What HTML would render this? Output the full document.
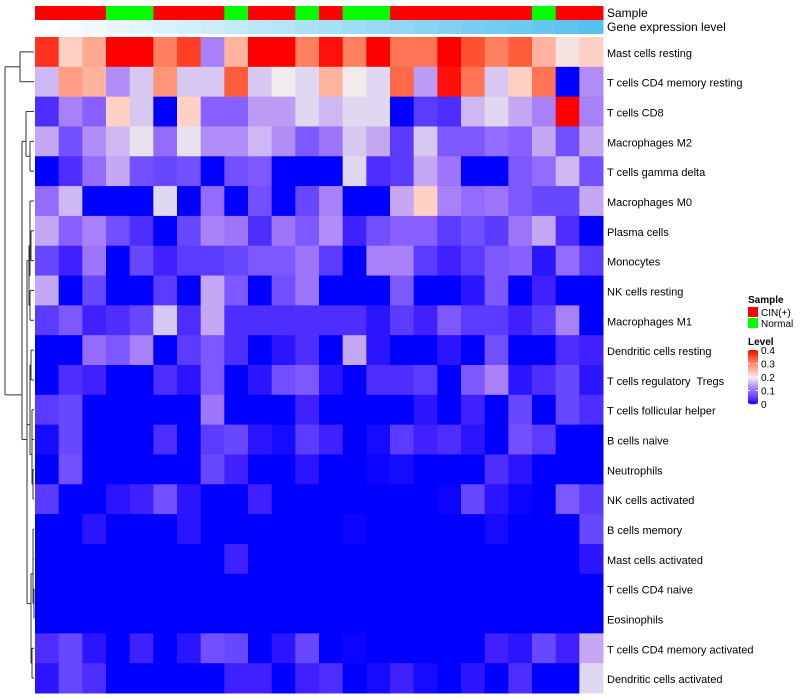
<!DOCTYPE html>
<html><head><meta charset="utf-8"><style>
html,body{margin:0;padding:0;background:#fff;}
svg{display:block;font-family:"Liberation Sans",sans-serif;}
</style></head><body>
<svg id="chart" width="800" height="700">
<g id="dendro" stroke="#333" stroke-width="1" fill="none"></g>
<g id="annot"></g>
<g id="cells"></g>
<g id="rlabels" font-size="11" fill="#000"></g>
<text x="607" y="17" font-size="12">Sample</text>
<text x="607" y="31" font-size="12">Gene expression level</text>
<g font-size="10">
<text x="748" y="303" font-weight="bold">Sample</text>
<rect x="748" y="307" width="10" height="10" fill="#ff0000"/>
<text x="761" y="316">CIN(+)</text>
<rect x="748" y="318" width="10" height="10" fill="#00ff00"/>
<text x="761" y="327">Normal</text>
<text x="748" y="345" font-weight="bold">Level</text>
<g id="cbar"></g>
</g>
</svg>
<script>
const rowNames=["Mast cells resting","T cells CD4 memory resting","T cells CD8","Macrophages M2","T cells gamma delta","Macrophages M0","Plasma cells","Monocytes","NK cells resting","Macrophages M1","Dendritic cells resting","T cells regulatory  Tregs","T cells follicular helper","B cells naive","Neutrophils","NK cells activated","B cells memory","Mast cells activated","T cells CD4 naive","Eosinophils","T cells CD4 memory activated","Dendritic cells activated"];
const sampleGroups=["CIN","CIN","CIN","N","N","CIN","CIN","CIN","N","CIN","CIN","N","CIN","N","N","CIN","CIN","CIN","CIN","CIN","CIN","N","CIN","CIN"];
const levelTicks=[0,0.1,0.2,0.3,0.4];
const r1=[.37,.23,.27,.4,.4,.31,.36,.12,.26,.4,.4,.31,.39,.31,.4,.32,.32,.4,.35,.31,.34,.26,.21,.23];
const r2=[.16,.28,.26,.13,.17,.29,.17,.17,.34,.17,.2,.18,.26,.2,.18,.33,.14,.39,.32,.17,.23,.32,0,.13];
const r3=[.04,.12,.09,.23,.17,0,.23,.09,.09,.14,.14,.18,.16,.18,.18,0,.05,.04,.16,.18,.15,.12,.4,.12];
const r4=[.15,.07,.13,.16,.19,.1,.19,.13,.13,.16,.13,.08,.11,.17,.15,.05,.17,.08,.08,.1,.09,.15,.07,.15];
const r5=[0,.04,.1,.15,.07,.06,.07,0,.07,.08,0,0,0,.18,.04,.05,.15,.11,0,0,.08,.1,.16,.07];
const r6=[.1,.16,0,0,0,.18,0,.1,0,.07,0,.06,.12,0,0,.15,.23,.12,.1,.11,.08,.06,.06,.15];
const r7=[.15,.09,.12,.07,.04,0,.06,.12,.11,.04,.11,.08,.13,.03,.07,.09,.09,.05,.07,.05,.11,.15,.04,0];
const r8=[.06,.03,.11,0,.06,.03,.05,.05,.06,.08,.08,.11,.05,0,.12,.12,.05,.03,.05,.08,.09,.02,.1,.05];
const r9=[.15,0,.06,0,0,.05,0,.15,.08,0,.07,.11,0,0,0,.08,0,0,.02,.08,0,.03,0,0];
const r10=[.05,.08,.03,.04,.06,.17,.04,.15,.04,.04,.04,.04,.04,.04,.02,.05,.03,.08,.05,.05,.03,.05,.12,0];
const r11=[0,0,.1,.08,.12,0,.05,.08,.04,0,.02,.04,0,.15,.02,0,0,.02,0,.07,0,0,.04,.03];
const r12=[0,.04,.03,0,0,.04,.02,.08,0,.02,.07,.08,.02,0,.04,.04,.05,0,.08,.12,.02,.04,.06,.02];
const r13=[.05,.06,0,0,0,0,0,.11,0,0,0,.03,0,0,0,0,.02,0,.03,0,.06,0,.06,.04];
const r14=[.01,.06,0,0,0,.04,0,.05,.06,.02,.01,.05,.03,0,.01,.05,.03,.04,.02,0,.07,.05,0,0];
const r15=[0,.07,0,0,0,0,0,.06,.03,0,0,.02,0,0,.005,.01,0,0,0,.04,.02,0,0,0];
const r16=[.05,0,0,.02,.03,.07,.02,0,0,.03,0,0,0,0,0,0,0,.005,.06,.02,.005,0,.08,.05];
const r17=[0,0,.02,0,0,0,.02,0,0,0,0,0,0,.005,0,0,0,0,0,.01,0,0,0,.06];
const r18=[0,0,0,0,0,0,0,0,.03,0,0,0,0,0,0,0,0,0,0,0,0,0,0,.02];
const r19=[0,0,0,0,0,0,0,0,0,0,0,0,0,0,0,0,0,0,0,0,0,0,0,0];
const r20=[0,0,0,0,0,0,0,0,0,0,0,0,0,0,0,0,0,0,0,0,0,0,0,0];
const r21=[.04,.06,.02,0,.03,0,.02,.07,.06,0,.02,.06,0,.005,0,0,0,0,0,.03,.02,.06,.03,.15];
const r22=[.02,.06,.04,0,0,0,0,0,.03,.03,0,.03,.04,0,.01,.03,.01,0,.02,0,.04,0,0,.18];
const values=[r1,r2,r3,r4,r5,r6,r7,r8,r9,r10,r11,r12,r13,r14,r15,r16,r17,r18,r19,r20,r21,r22];

const NS="http://www.w3.org/2000/svg";
const X0=35,X1=603,Y0=37,Y1=693;
const nC=sampleGroups.length,nR=rowNames.length;
const cw=(X1-X0)/nC,rh=(Y1-Y0)/nR;
const xPos=i=>X0+i*cw;
const yPos=j=>Y0+j*rh;
const stops=[[0,[0,0,255]],[0.03,[64,32,255]],[0.06,[104,72,255]],[0.09,[136,96,255]],[0.12,[168,128,248]],[0.15,[196,168,244]],[0.18,[224,216,240]],[0.2,[240,236,236]],[0.23,[255,208,196]],[0.27,[255,168,144]],[0.31,[255,128,96]],[0.35,[255,80,48]],[0.4,[255,0,0]]];
function col(v){v=Math.max(0,Math.min(0.4,v));for(let k=1;k<stops.length;k++){if(v<=stops[k][0]){const a=stops[k-1],b=stops[k];const t=(v-a[0])/(b[0]-a[0]);const c=a[1].map((x,i)=>Math.round(x+(b[1][i]-x)*t));return `rgb(${c})`;}}return "rgb(255,0,0)";}
function mk(tag,attrs,parent){const e=document.createElementNS(NS,tag);for(const k in attrs)e.setAttribute(k,attrs[k]);parent.appendChild(e);return e;}

const cells=document.getElementById('cells');
values.forEach((row,j)=>row.forEach((v,i)=>{
  const r=mk('rect',{x:xPos(i),y:yPos(j),width:cw+0.5,height:rh+0.5,fill:col(v)},cells);
  
  
}));
const rl=document.getElementById('rlabels');
rowNames.forEach((n,j)=>{
  const t=mk('text',{x:607,y:yPos(j)+rh/2+5},rl);t.textContent=n;
  t.setAttributeNS("http://www.w3.org/XML/1998/namespace","xml:space","preserve");
  t.style.whiteSpace="pre";
  
  
});
const an=document.getElementById('annot');
sampleGroups.forEach((g,i)=>{
  const r=mk('rect',{x:xPos(i),y:6,width:cw+0.5,height:14,fill:g==="CIN"?"#ff0000":"#00ff00"},an);
  
  
  const t=i/(nC-1);const c=[255,255,255].map((x,k)=>Math.round(x+([86,193,238][k]-x)*t));
  const r2=mk('rect',{x:xPos(i),y:20,width:cw+0.5,height:14,fill:`rgb(${c})`},an);
  
  
});
const cb=document.getElementById('cbar');
const cbTop=350,cbBot=404;
for(let k=0;k<54;k++){const v=0.4*(1-k/54);mk('rect',{x:748,y:cbTop+k,width:10,height:1.2,fill:col(v)},cb);}
levelTicks.forEach(v=>{
  const y=cbBot-(v/0.4)*(cbBot-cbTop);
  mk('line',{x1:748,x2:750,y1:y,y2:y,stroke:"#fff"},cb);mk('line',{x1:756,x2:758,y1:y,y2:y,stroke:"#fff"},cb);
  const t=mk('text',{x:761,y:y+4,'font-size':10},cb);t.textContent=String(v);
  
  
});
const d=document.getElementById('dendro');
const cy=j=>yPos(j)+rh/2;
function seg(x1,y1,x2,y2){mk('line',{x1,y1,x2,y2},d);}
function node(x,ya,yb,xa,xb){seg(x,ya,x,yb);seg(x,ya,xa,ya);seg(x,yb,xb,yb);}
node(20,cy(0),cy(1),34,34);
node(30,cy(3),cy(4),34,34);
node(26,cy(2),(cy(3)+cy(4))/2,34,30);
node(31,cy(6),cy(7),34,34);
node(30,cy(8),cy(9),34,34);
node(29,(cy(6)+cy(7))/2,(cy(8)+cy(9))/2,31,30);
node(30,cy(5),(cy(6)+cy(7)+cy(8)+cy(9))/4,34,29);
node(31,cy(10),cy(11),34,34);
node(32,cy(12),cy(13),34,34);
node(33,cy(14),cy(15),34,34);
node(32,(cy(12)+cy(13))/2,(cy(14)+cy(15))/2,32,33);
node(30,(cy(10)+cy(11))/2,(cy(12)+cy(15))/2,31,32);
node(33,cy(16),cy(17),34,34);
node(34,cy(18),cy(19),34,34);
node(33,(cy(16)+cy(17))/2,(cy(18)+cy(19))/2,33,34);
node(32,cy(20),cy(21),34,34);
node(31,(cy(16)+cy(19))/2,(cy(20)+cy(21))/2,33,32);
node(27,(cy(10)+cy(15))/2,(cy(16)+cy(21))/2,30,31);
node(27,(cy(5)+cy(9))/2,(cy(10)+cy(21))/2,30,27);
node(22,(cy(2)+cy(4))/2,(cy(5)+cy(21))/2,26,27);
node(5,(cy(0)+cy(1))/2,(cy(2)+cy(21))/2,20,22);
</script>
</body></html>
